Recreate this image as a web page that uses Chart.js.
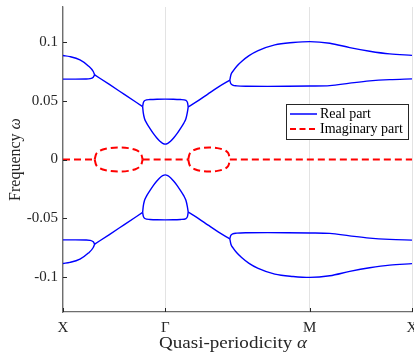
<!DOCTYPE html>
<html>
<head>
<meta charset="utf-8">
<script src="https://cdn.jsdelivr.net/npm/chart.js@4/dist/chart.umd.min.js"></script>
<style>
  html, body { margin: 0; padding: 0; background: #fff; }
  #wrap { width: 414px; height: 354px; }
</style>
</head>
<body>
<div id="wrap"><canvas id="bands" width="414" height="354"></canvas></div>
<script>
// Path through the Brillouin zone: X -> Γ -> M -> X (path length units)
const xTickPositions = [0, 1, 2.414, 3.414];
const xTickLabels = ['X', 'Γ', 'M', 'X'];
const yTickValues = [-0.1, -0.05, 0, 0.05, 0.1];
const yTickLabels = ['-0.1', '-0.05', '0', '0.05', '0.1'];

// Real part, upper half: [alpha, omega]
const realUpperLeftOuter = [[0, 0.0886], [0.068, 0.0877], [0.166, 0.0849], [0.248, 0.0798], [0.296, 0.075], [0.31, 0.0721]];
const realUpperLeftInner = [[0, 0.0685], [0.12, 0.0685], [0.22, 0.0686], [0.264, 0.0689], [0.296, 0.0702], [0.31, 0.0721]];
const realUpperSlopeA = [[0.31, 0.0721], [0.45, 0.0642], [0.6, 0.0555], [0.779, 0.0451]];
const realUpperGammaTop = [[0.779, 0.0451], [0.786, 0.0485], [0.8, 0.0503], [0.85, 0.0511], [0.92, 0.0514], [1.0, 0.0515], [1.08, 0.0514], [1.15, 0.0511], [1.204, 0.0503], [1.218, 0.0485], [1.225, 0.0449]];
const realUpperGammaDip = [[0.779, 0.0451], [0.785, 0.04], [0.797, 0.035], [0.818, 0.031], [0.85, 0.0265], [0.883, 0.0222], [0.916, 0.0185], [0.948, 0.0155], [0.975, 0.0138], [1.0, 0.0131], [1.025, 0.0138], [1.052, 0.0155], [1.084, 0.0185], [1.117, 0.0222], [1.15, 0.0265], [1.182, 0.031], [1.203, 0.035], [1.216, 0.04], [1.225, 0.0449]];
const realUpperSlopeB = [[1.225, 0.0449], [1.323, 0.0502], [1.42, 0.056], [1.518, 0.0617], [1.632, 0.0676]];
const realUpperRightOuter = [[1.632, 0.0676], [1.642, 0.072], [1.665, 0.0755], [1.7, 0.0795], [1.747, 0.0835], [1.82, 0.0885], [1.909, 0.0928], [2.072, 0.0977], [2.251, 0.0997], [2.414, 0.1005], [2.61, 0.0991], [2.805, 0.0954], [3.0, 0.0923], [3.196, 0.09], [3.414, 0.0888]];
const realUpperRightInner = [[1.632, 0.0676], [1.64, 0.065], [1.66, 0.0635], [1.7, 0.0628], [1.8, 0.0624], [2.0, 0.0623], [2.2, 0.0624], [2.414, 0.0626], [2.61, 0.063], [2.805, 0.0651], [3.0, 0.067], [3.196, 0.0681], [3.414, 0.0687]];

// Real part, lower half
const realLowerLeftOuter = [[0, -0.0886], [0.068, -0.0877], [0.166, -0.0849], [0.248, -0.0798], [0.296, -0.075], [0.31, -0.0721]];
const realLowerLeftInner = [[0, -0.0685], [0.12, -0.0685], [0.22, -0.0686], [0.264, -0.0689], [0.296, -0.0702], [0.31, -0.0721]];
const realLowerSlopeA = [[0.31, -0.0721], [0.45, -0.0642], [0.6, -0.0555], [0.779, -0.0451]];
const realLowerGammaBottom = [[0.779, -0.0451], [0.786, -0.0485], [0.8, -0.0503], [0.85, -0.0511], [0.92, -0.0514], [1.0, -0.0515], [1.08, -0.0514], [1.15, -0.0511], [1.204, -0.0503], [1.218, -0.0485], [1.225, -0.0449]];
const realLowerGammaPeak = [[0.779, -0.0451], [0.785, -0.04], [0.797, -0.035], [0.818, -0.031], [0.85, -0.0265], [0.883, -0.0222], [0.916, -0.0185], [0.948, -0.0155], [0.975, -0.0138], [1.0, -0.0131], [1.025, -0.0138], [1.052, -0.0155], [1.084, -0.0185], [1.117, -0.0222], [1.15, -0.0265], [1.182, -0.031], [1.203, -0.035], [1.216, -0.04], [1.225, -0.0449]];
const realLowerSlopeB = [[1.225, -0.0449], [1.323, -0.0502], [1.42, -0.056], [1.518, -0.0617], [1.632, -0.0676]];
const realLowerRightOuter = [[1.632, -0.0676], [1.642, -0.072], [1.665, -0.0755], [1.7, -0.0795], [1.747, -0.0835], [1.82, -0.0885], [1.909, -0.0928], [2.072, -0.0977], [2.251, -0.0997], [2.414, -0.1005], [2.61, -0.0991], [2.805, -0.0954], [3.0, -0.0923], [3.196, -0.09], [3.414, -0.0888]];
const realLowerRightInner = [[1.632, -0.0676], [1.64, -0.065], [1.66, -0.0635], [1.7, -0.0628], [1.8, -0.0624], [2.0, -0.0623], [2.2, -0.0624], [2.414, -0.0626], [2.61, -0.063], [2.805, -0.0651], [3.0, -0.067], [3.196, -0.0681], [3.414, -0.0687]];

// Imaginary part
const imagZeroLeft = [[0, 0], [0.31, 0]];
const imagZeroMiddle = [[0.779, 0], [1.225, 0]];
const imagZeroRight = [[1.632, 0], [3.414, 0]];
const imagLoopAUpper = [[0.31, 0], [0.322, 0.0042], [0.345, 0.0066], [0.39, 0.0085], [0.45, 0.0097], [0.545, 0.0103], [0.64, 0.0097], [0.7, 0.0085], [0.745, 0.0066], [0.767, 0.0042], [0.779, 0]];
const imagLoopALower = [[0.31, 0], [0.322, -0.0042], [0.345, -0.0066], [0.39, -0.0085], [0.45, -0.0097], [0.545, -0.0103], [0.64, -0.0097], [0.7, -0.0085], [0.745, -0.0066], [0.767, -0.0042], [0.779, 0]];
const imagLoopBUpper = [[1.225, 0], [1.236, 0.0042], [1.256, 0.0066], [1.296, 0.0085], [1.35, 0.0097], [1.43, 0.0103], [1.51, 0.0097], [1.564, 0.0085], [1.604, 0.0066], [1.622, 0.0042], [1.632, 0]];
const imagLoopBLower = [[1.225, 0], [1.236, -0.0042], [1.256, -0.0066], [1.296, -0.0085], [1.35, -0.0097], [1.43, -0.0103], [1.51, -0.0097], [1.564, -0.0085], [1.604, -0.0066], [1.622, -0.0042], [1.632, 0]];

const realBranches = [
  realUpperLeftOuter, realUpperLeftInner, realUpperSlopeA, realUpperGammaTop, realUpperGammaDip,
  realUpperSlopeB, realUpperRightOuter, realUpperRightInner,
  realLowerLeftOuter, realLowerLeftInner, realLowerSlopeA, realLowerGammaBottom, realLowerGammaPeak,
  realLowerSlopeB, realLowerRightOuter, realLowerRightInner
];
const imagBranches = [
  imagZeroLeft, imagZeroMiddle, imagZeroRight,
  imagLoopAUpper, imagLoopALower, imagLoopBUpper, imagLoopBLower
];

const REAL_COLOR = '#0000ff';
const IMAG_COLOR = '#ff0000';
const IMAG_DASH = [7, 4];
const AXIS_COLOR = '#262626';
const SERIF = '"Liberation Serif", "Times New Roman", serif';

// Turn [x, y] pairs into a line dataset.
const makeLine = (points, color, width, dash) => ({
  data: points.map(([x, y]) => ({ x, y })),
  borderColor: color,
  borderWidth: width,
  borderDash: dash || [],
  showLine: true,
  pointRadius: 0,
  cubicInterpolationMode: 'monotone',
  fill: false
});

// Draw a label made of an upright part and an italic symbol, starting at 0,0.
const drawMixedLabel = (ctx, main, sym, size) => {
  ctx.font = size + 'px ' + SERIF;
  const wMain = ctx.measureText(main).width;
  ctx.fillText(main, 0, 0);
  ctx.font = 'italic ' + size + 'px ' + SERIF;
  ctx.fillText(sym, wMain, 0);
};

const measureMixedLabel = (ctx, main, sym, size) => {
  ctx.font = size + 'px ' + SERIF;
  const wMain = ctx.measureText(main).width;
  ctx.font = 'italic ' + size + 'px ' + SERIF;
  return wMain + ctx.measureText(sym).width;
};

// Axis titles, inward tick marks and the boxed legend.
const decorations = {
  id: 'decorations',
  afterDraw(chart) {
    const { ctx, chartArea, scales } = chart;
    const { left, right, top, bottom } = chartArea;
    ctx.save();

    // inward ticks
    ctx.strokeStyle = AXIS_COLOR;
    ctx.lineWidth = 1;
    ctx.beginPath();
    yTickValues.forEach((v) => {
      const py = Math.round(scales.y.getPixelForValue(v)) + 0.5;
      ctx.moveTo(left, py);
      ctx.lineTo(left + 4, py);
    });
    xTickPositions.forEach((v) => {
      const px = Math.round(scales.x.getPixelForValue(v)) + 0.5;
      ctx.moveTo(px, bottom);
      ctx.lineTo(px, bottom - 4);
    });
    ctx.stroke();

    ctx.fillStyle = AXIS_COLOR;
    ctx.textAlign = 'left';
    ctx.textBaseline = 'alphabetic';

    // x title, stretched a little to the width of the original typeface
    const xWidth = measureMixedLabel(ctx, 'Quasi-periodicity ', 'α', 16);
    const xStretch = 148 / xWidth;
    ctx.translate(233 - 74, 348);
    ctx.scale(xStretch, 1);
    drawMixedLabel(ctx, 'Quasi-periodicity ', 'α', 16);
    ctx.setTransform(1, 0, 0, 1, 0, 0);

    // y title (rotated)
    const yWidth = measureMixedLabel(ctx, 'Frequency ', 'ω', 16);
    ctx.translate(20, (top + bottom) / 2);
    ctx.rotate(-Math.PI / 2);
    ctx.translate(-yWidth / 2, 0);
    drawMixedLabel(ctx, 'Frequency ', 'ω', 16);
    ctx.setTransform(1, 0, 0, 1, 0, 0);

    // legend box
    const box = { x: 286.5, y: 104.5, w: 122, h: 35 };
    ctx.fillStyle = '#fff';
    ctx.fillRect(box.x, box.y, box.w, box.h);
    ctx.strokeStyle = AXIS_COLOR;
    ctx.lineWidth = 1;
    ctx.strokeRect(box.x, box.y, box.w, box.h);

    ctx.strokeStyle = REAL_COLOR;
    ctx.lineWidth = 1.5;
    ctx.beginPath();
    ctx.moveTo(290, 114);
    ctx.lineTo(317, 114);
    ctx.stroke();

    ctx.strokeStyle = IMAG_COLOR;
    ctx.lineWidth = 2;
    ctx.setLineDash([6, 3.5]);
    ctx.beginPath();
    ctx.moveTo(290, 129);
    ctx.lineTo(317, 129);
    ctx.stroke();
    ctx.setLineDash([]);

    ctx.fillStyle = '#000';
    ctx.font = '14px ' + SERIF;
    ctx.textBaseline = 'middle';
    ctx.fillText('Real part', 320, 114);
    ctx.fillText('Imaginary part', 320, 129);

    ctx.restore();
  }
};

const buildDatasets = () => [
  ...imagBranches.map((pts) => makeLine(pts, IMAG_COLOR, 2, IMAG_DASH)),
  ...realBranches.map((pts) => makeLine(pts, REAL_COLOR, 1.4))
];

const renderBands = () => {
  const canvas = document.getElementById('bands');
  new Chart(canvas, {
    type: 'scatter',
    data: { datasets: buildDatasets() },
    options: {
      responsive: false,
      animation: false,
      events: [],
      layout: { padding: { left: 0, top: 7, right: 2, bottom: 0 } },
      plugins: { legend: { display: false }, tooltip: { enabled: false } },
      scales: {
        x: {
          type: 'linear',
          min: 0,
          max: 3.414,
          afterBuildTicks: (scale) => { scale.ticks = xTickPositions.map((value) => ({ value })); },
          afterFit: (scale) => { scale.height = 42; scale.paddingLeft = 0; scale.paddingRight = 0; },
          ticks: {
            autoSkip: false,
            maxRotation: 0,
            padding: 7,
            color: AXIS_COLOR,
            font: { family: SERIF, size: 15 },
            callback: (value, index) => xTickLabels[index]
          },
          grid: { color: '#e3e3e3', lineWidth: 1, drawTicks: false },
          border: { display: true, color: '#6e6e6e', width: 1.3 }
        },
        y: {
          type: 'linear',
          min: -0.13,
          max: 0.13,
          afterBuildTicks: (scale) => { scale.ticks = yTickValues.map((value) => ({ value })); },
          afterFit: (scale) => { scale.width = 63; scale.paddingTop = 0; scale.paddingBottom = 0; },
          ticks: {
            padding: 5,
            color: AXIS_COLOR,
            font: { family: SERIF, size: 15 },
            callback: (value, index) => yTickLabels[index]
          },
          grid: { display: false, drawTicks: false },
          border: { display: true, color: '#6e6e6e', width: 1.3 }
        }
      }
    },
    plugins: [decorations]
  });
};

if (document.readyState === 'loading') {
  document.addEventListener('DOMContentLoaded', renderBands);
} else {
  renderBands();
}
</script>
</body>
</html>
